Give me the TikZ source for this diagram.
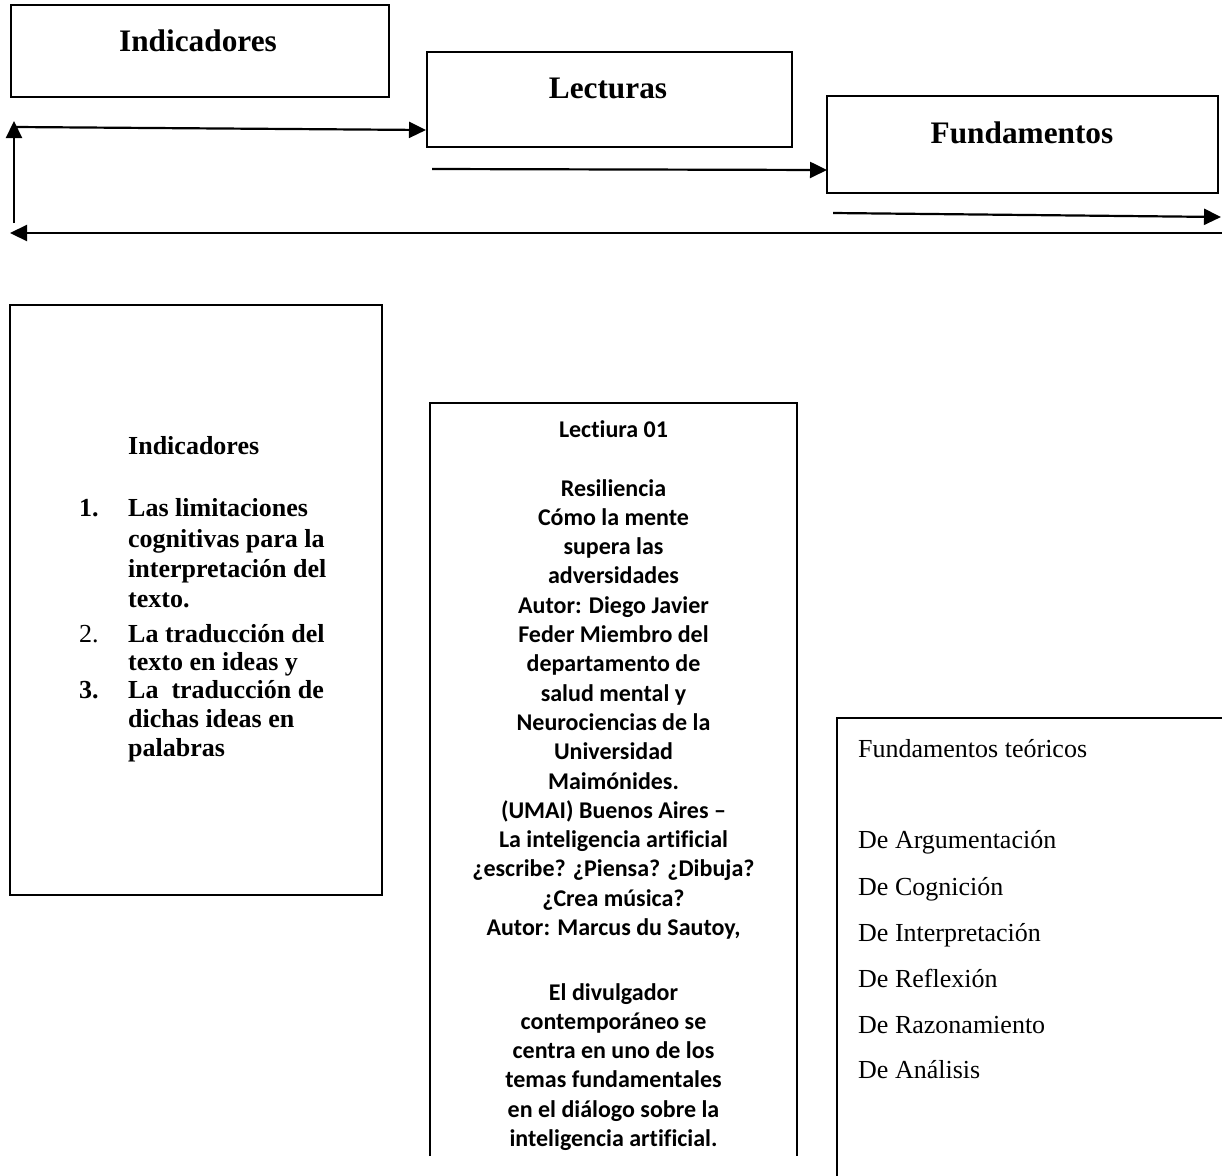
\documentclass[tikz,border=0pt]{standalone}
\usepackage{fontspec}
\setmainfont{Liberation Serif}
\newfontfamily\calib[Ligatures={NoCommon}]{Carlito}
\usetikzlibrary{arrows.meta}
\begin{document}
\begin{tikzpicture}[x=1pt,y=-1pt,
  boxnode/.style={draw, line width=2.2pt, inner sep=0pt},
  frame/.style={line width=2.2pt},
  toplab/.style={font=\fontsize{31.3}{36}\selectfont\bfseries, inner sep=0pt, anchor=base},
  conn/.style={line width=2.2pt, -{Triangle[length=17pt,width=16pt]}},
  indtxt/.style={font=\fontsize{26}{30}\selectfont\bfseries, inner sep=0pt, anchor=base west},
  indnum/.style={font=\fontsize{26}{30}\selectfont\bfseries, inner sep=0pt, anchor=base west},
  lecttxt/.style={font=\calib\fontsize{24}{29}\selectfont\bfseries, inner sep=0pt, anchor=base},
  fundtxt/.style={font=\fontsize{26}{30}\selectfont, inner sep=0pt, anchor=base west}]
\fill[white] (0,0) rectangle (1222,1175);
\useasboundingbox (0,0) rectangle (1222,1175);

% top boxes
\node[boxnode, minimum width=378pt, minimum height=92pt] (bInd) at (200,51) {};
\node[boxnode, minimum width=365pt, minimum height=95pt] (bLec) at (609.5,99.5) {};
\node[boxnode, minimum width=391pt, minimum height=97pt] (bFun) at (1022.5,144.5) {};
\node[toplab] (tInd) at (198,51) {Indicadores};
\node[toplab] (tLec) at (608,98) {Lecturas};
\node[toplab] (tFun) at (1022,143) {Fundamentos};

% arrows
\coordinate (a1s) at (15,127);   \coordinate (a1e) at (426,130);
\coordinate (a2s) at (14,223);   \coordinate (a2e) at (14,121);
\coordinate (a3s) at (432,169);  \coordinate (a3e) at (827,170);
\coordinate (a4s) at (833,213);  \coordinate (a4e) at (1221,217);
\coordinate (a5s) at (1222,233); \coordinate (a5e) at (10,233);
\draw[conn] (a1s) -- (a1e);
\draw[conn] (a2s) -- (a2e);
\draw[conn] (a3s) -- (a3e);
\draw[conn] (a4s) -- (a4e);
\draw[conn] (a5s) -- (a5e);

% lower left box
\node[boxnode, minimum width=372pt, minimum height=590pt] (bIndL) at (196,600) {};
\node[indtxt] (iTitle) at (128,454) {Indicadores};
\node[indnum] (n1) at (79,516) {1.};
\node[indnum, font=\fontsize{26}{30}\selectfont] (n2) at (79,642) {2.};
\node[indnum] (n3) at (79,698) {3.};
\foreach \yy/\tt [count=\i] in {516/Las limitaciones, 547/cognitivas para la, 577/interpretación del, 607/texto., 642/La traducción del, 670/texto en ideas y, 698/{La\ \ traducción de}, 727/dichas ideas en, 756/palabras}
  \node[indtxt] (il\i) at (128,\yy) {\tt};

% middle open box
\coordinate (mBL) at (430,1156); \coordinate (mTL) at (430,403);
\coordinate (mTR) at (797,403);  \coordinate (mBR) at (797,1156);
\draw[frame] (mBL) -- (mTL) -- (mTR) -- (mBR);
\foreach \yy/\tt [count=\i] in {437/Lectiura 01, 496/Resiliencia, 525.3/Cómo la mente, 554.6/supera las, 583.9/adversidades, 613.2/Autor: Diego Javier, 642.5/Feder Miembro del, 671.8/departamento de, 701.1/salud mental y, 730.4/Neurociencias de la, 759.7/Universidad, 789/Maimónides., 818.3/(UMAI) Buenos Aires –, 847.6/La inteligencia artificial, 876.9/¿escribe? ¿Piensa? ¿Dibuja?, 906.2/¿Crea música?, 935.5/{Autor: Marcus du Sautoy,}, 1000/El divulgador, 1029.3/contemporáneo se, 1058.6/centra en uno de los, 1087.9/temas fundamentales, 1117.2/en el diálogo sobre la, 1146.5/inteligencia artificial.}
  \node[lecttxt] (ml\i) at (613.5,\yy) {\tt};

% right open box
\coordinate (rBL) at (837,1176); \coordinate (rTL) at (837,718);
\coordinate (rTR) at (1223,718);
\draw[frame] (rBL) -- (rTL) -- (rTR);
\foreach \yy/\tt [count=\i] in {757/Fundamentos teóricos, 848/De Argumentación, 895/De Cognición, 941/De Interpretación, 987/De Reflexión, 1033/De Razonamiento, 1078/De Análisis}
  \node[fundtxt] (fl\i) at (858,\yy) {\tt};
\end{tikzpicture}
\end{document}
